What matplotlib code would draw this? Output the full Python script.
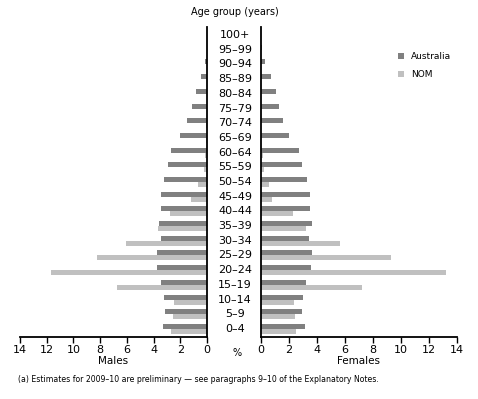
import numpy as np
import matplotlib
matplotlib.use("Agg")
import matplotlib.pyplot as plt

plt.rcParams['font.family'] = ['Liberation Sans Narrow', 'DejaVu Sans']

ages = ['0–4', '5–9', '10–14', '15–19', '20–24', '25–29', '30–34', '35–39',
        '40–44', '45–49', '50–54', '55–59', '60–64', '65–69', '70–74',
        '75–79', '80–84', '85–89', '90–94', '95–99', '100+']
# percent of population, youngest first
male_aus = [3.31, 3.16, 3.23, 3.46, 3.76, 3.76, 3.46, 3.6, 3.46, 3.46, 3.23,
            2.93, 2.7, 2.03, 1.5, 1.13, 0.83, 0.45, 0.15, 0.02, 0.0]
male_nom = [2.7, 2.56, 2.48, 6.77, 11.7, 8.2, 6.1, 3.68, 2.78, 1.2, 0.7,
            0.23, 0.15, 0.05, 0.05, 0.0, 0.0, 0.0, 0.0, 0.0, 0.0]
female_aus = [3.14, 2.93, 3.0, 3.21, 3.57, 3.64, 3.43, 3.64, 3.5, 3.5, 3.29,
              2.93, 2.71, 2.0, 1.57, 1.29, 1.07, 0.71, 0.29, 0.05, 0.01]
female_nom = [2.5, 2.43, 2.36, 7.2, 13.2, 9.29, 5.64, 3.21, 2.29, 0.79, 0.57,
              0.21, 0.14, 0.02, 0.0, 0.0, 0.0, 0.0, 0.0, 0.0, 0.0]

dark = '#808080'
light = '#c0c0c0'
W, H = 478, 399
fig = plt.figure(figsize=(W / 100, H / 100), dpi=100)

y = np.arange(len(ages))
bh = 0.34
bottom = (H - 337) / H
height = (337 - 27) / H
axl = fig.add_axes([20 / W, bottom, (207 - 20) / W, height])
axr = fig.add_axes([261 / W, bottom, (457 - 261) / W, height])

axl.barh(y + bh / 2, male_aus, height=bh, color=dark, label='Australia')
axl.barh(y - bh / 2, male_nom, height=bh, color=light, label='NOM')
axr.barh(y + bh / 2, female_aus, height=bh, color=dark)
axr.barh(y - bh / 2, female_nom, height=bh, color=light)

axl.set_xlim(14, 0)
axr.set_xlim(0, 14)
for ax in (axl, axr):
    ax.set_ylim(-0.55, 20.55)
    ax.set_yticks([])
    ax.set_xticks(range(0, 15, 2))
    ax.tick_params(axis='x', direction='out', length=4, width=1,
                   labelsize=8, pad=2)
    ax.spines['top'].set_visible(False)
    ax.spines['bottom'].set_linewidth(1.3)
axl.spines['left'].set_visible(False)
axl.spines['right'].set_linewidth(1.3)
axr.spines['right'].set_visible(False)
axr.spines['left'].set_linewidth(1.3)

# axis titles under the tick labels
fig.text((20 + 207) / 2 / W, 1 - 361 / H, 'Males', ha='center', va='center', fontsize=7.5)
fig.text((261 + 457) / 2 / W, 1 - 361 / H, 'Females', ha='center', va='center', fontsize=7.5)

# age group labels between the two halves
for i, a in enumerate(ages):
    yy = axl.transData.transform((0, i))[1]
    fig.text(235 / W, yy / H, a, ha='center', va='center', fontsize=8)

fig.text(235 / W, 1 - 12 / H, 'Age group (years)', ha='center', va='center', fontsize=7)
fig.text(237 / W, 1 - 353 / H, '%', ha='center', va='center', fontsize=7)
fig.text(18 / W, 1 - 380 / H,
         '(a) Estimates for 2009–10 are preliminary — see paragraphs 9–10 of the Explanatory Notes.',
         ha='left', va='center', fontsize=5.6)

fig.legend(handles=axl.get_legend_handles_labels()[0], labels=['Australia', 'NOM'],
           loc='upper left', bbox_to_anchor=(390 / W, 1 - 44 / H), frameon=False,
           fontsize=6.5, handlelength=0.6, handleheight=0.6, labelspacing=1.0,
           handletextpad=0.8)

fig.savefig('out.png', dpi=100)
